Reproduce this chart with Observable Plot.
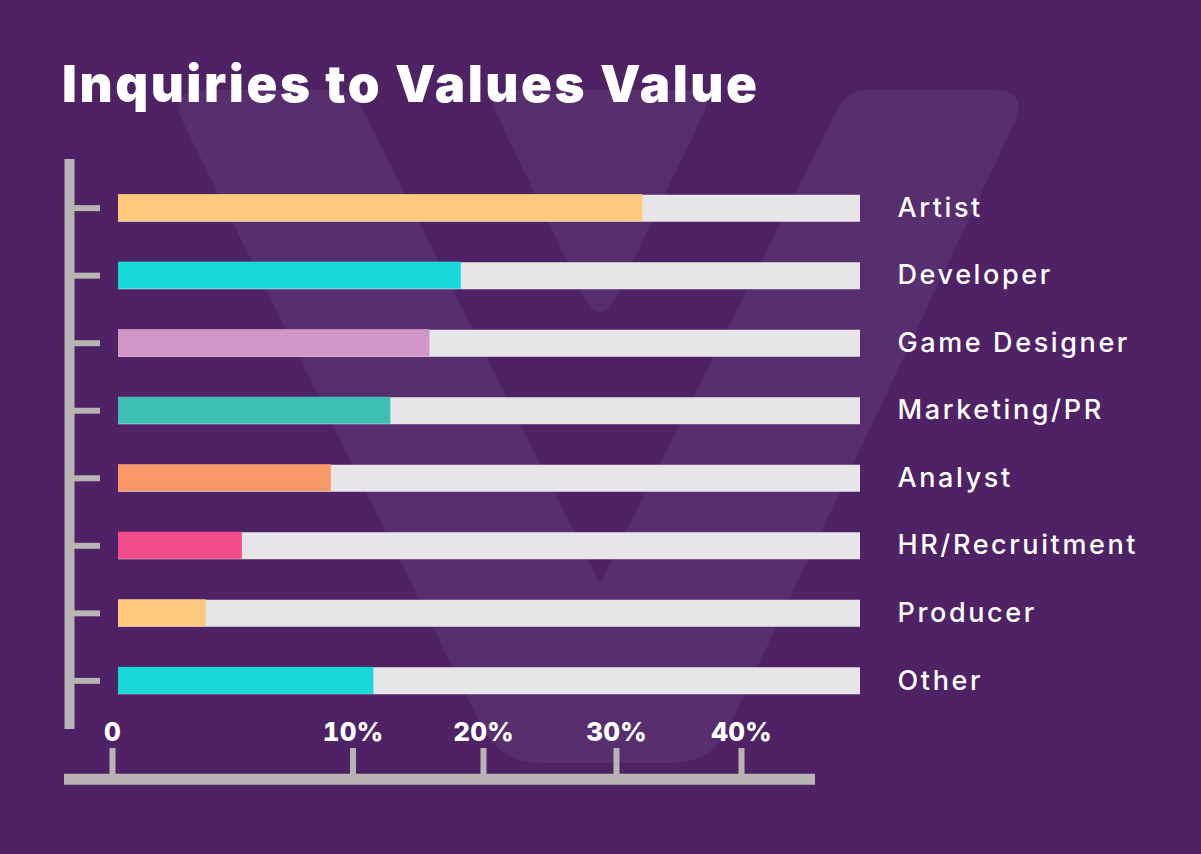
<!DOCTYPE html>
<html>
<head>
<meta charset="utf-8">
<script src="https://cdn.jsdelivr.net/npm/d3@7"></script>
<script src="https://cdn.jsdelivr.net/npm/@observablehq/plot@0.6"></script>
<style>
  html, body { margin: 0; padding: 0; background: #4F2266; }
  #wrap { position: relative; width: 1201px; height: 854px; background: #4F2266; overflow: hidden; }
  #bg { position: absolute; left: 0; top: 0; z-index: 0; }
  #title { position: relative; z-index: 1; height: 130px; box-sizing: border-box; padding-left: 62px; padding-top: 58px;
           color: #fff; font-family: Inter, Lato, sans-serif; font-weight: 900; font-size: 51px; line-height: 51px; white-space: nowrap; }
  #chart { position: relative; z-index: 1; height: 724px; }
  #chart svg g[aria-label="y-axis tick label"] text { font-family: Inter, Lato, sans-serif; font-weight: 500; }
  #chart svg g[aria-label="x-axis tick label"] text { font-family: Inter, Lato, sans-serif; font-weight: 800; }
</style>
</head>
<body>
<div id="wrap">
  <svg id="bg" width="1201" height="854"></svg>
  <div id="title"><span id="titleText">Inquiries to Values Value</span></div>
  <div id="chart"></div>
</div>
<script>
// ---- data ----
const roles = ["Artist", "Developer", "Game Designer", "Marketing/PR", "Analyst", "HR/Recruitment", "Producer", "Other"];
const shares = [32.1, 18.3, 15.9, 12.9, 9.1, 5.4, 3.9, 11.6];
const colors = ["#FEC97C", "#17D8D8", "#D296C6", "#3DBFB4", "#F89868", "#F24C8A", "#FEC97C", "#17D8D8"];
const xTicks = [0, 10, 20, 30, 40];
const xTickLabels = ["0", "10%", "20%", "30%", "40%"];

const data = roles.map((role, i) => ({role, share: shares[i]}));

// ---- decorative watermark (background logo) ----
function roundedPath(pts) {
  const n = pts.length;
  let d = "";
  for (let i = 0; i < n; i++) {
    const [x, y, r] = pts[i];
    const [px, py] = pts[(i - 1 + n) % n];
    const [nx, ny] = pts[(i + 1) % n];
    const l1 = Math.hypot(px - x, py - y), l2 = Math.hypot(nx - x, ny - y);
    const ax = x + (px - x) / l1 * r, ay = y + (py - y) / l1 * r;
    const bx = x + (nx - x) / l2 * r, by = y + (ny - y) / l2 * r;
    d += (i === 0 ? "M" : "L") + ax + "," + ay + "Q" + x + "," + y + " " + bx + "," + by;
  }
  return d + "Z";
}
const bg = d3.select("#bg");
bg.append("path").attr("fill", "#572E6E").attr("d", roundedPath([
  [167, 90, 38], [353, 90, 22], [600, 583, 0], [847, 90, 22], [1030, 90, 38], [712, 763, 40], [500, 763, 40]
]));
bg.append("path").attr("fill", "#572E6E").attr("d", roundedPath([
  [485, 90, 28], [715, 90, 28], [600, 330, 40]
]));

// ---- title fit ----
(function () {
  const t = document.getElementById("titleText");
  const w = t.getBoundingClientRect().width;
  const n = t.textContent.length;
  t.style.letterSpacing = ((695 - w) / (n - 1)) + "px";
})();

// ---- chart ----
const axisGrey = "#B8B4B4";
const chart = Plot.plot({
  width: 1201,
  height: 724,
  marginTop: 29,
  marginBottom: 125,
  marginLeft: 100,
  marginRight: 341,
  style: {background: "transparent", color: "white", fontFamily: "Inter, Lato, sans-serif", overflow: "visible"},
  x: {type: "linear", domain: xTicks, range: [112, 352.5, 483, 616, 741]},
  y: {domain: roles, paddingInner: 0.6, paddingOuter: 0.52, round: false},
  color: {domain: roles, range: colors},
  marks: [
    Plot.ruleY(roles, {stroke: "#E6E6E8", strokeWidth: 27, insetLeft: 18}),
    Plot.barX(data, {y: "role", x: "share", fill: "role", insetLeft: 6}),
    Plot.ruleX([0], {dx: -43, stroke: axisGrey, strokeWidth: 10}),
    Plot.ruleY([roles[roles.length - 1]], {dy: 98.5, stroke: axisGrey, strokeWidth: 11, insetLeft: -36, insetRight: 45}),
    Plot.axisY({anchor: "left", tickSize: 26, strokeWidth: 6, stroke: axisGrey, tickFormat: () => "", label: null}),
    Plot.axisY({anchor: "right", tickSize: 0, tickPadding: 37, fontSize: 27, fill: "white", label: null}),
    Plot.axisX({anchor: "top", ticks: xTicks, tickFormat: (d) => xTickLabels[xTicks.indexOf(d)],
                tickSize: 27, tickPadding: 7, strokeWidth: 6, stroke: axisGrey, fill: "white",
                fontSize: 26, dy: 615, label: null})
  ]
});
document.getElementById("chart").appendChild(chart);

// match the reference typeface width for the category labels
(function () {
  const yl = chart.querySelectorAll('g[aria-label="y-axis tick label"] text');
  let ref = null;
  yl.forEach(t => { if (t.textContent === "HR/Recruitment") ref = t; });
  if (ref) {
    const w = ref.getComputedTextLength();
    const ls = (238 - w) / (ref.textContent.length - 1);
    yl.forEach(t => t.style.letterSpacing = ls + "px");
  }
})();
</script>
</body>
</html>
